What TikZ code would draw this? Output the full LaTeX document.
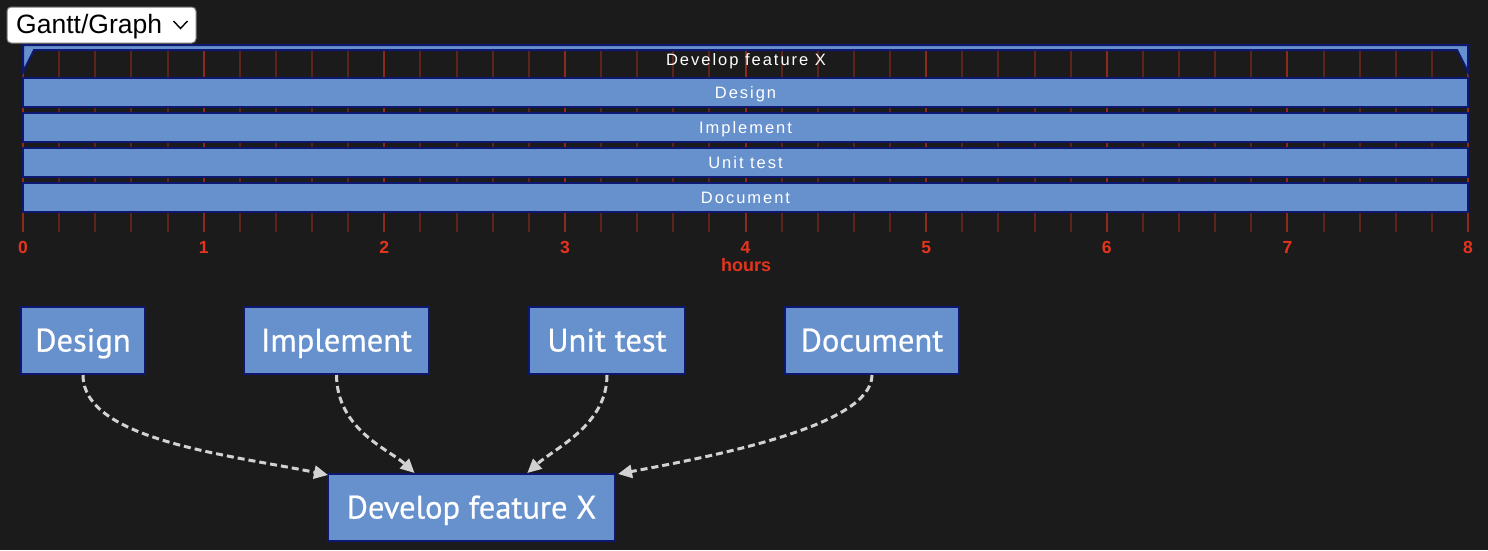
\documentclass[tikz,border=0pt]{standalone}
\usepackage{fontspec}
\setmainfont{Liberation Sans}
\newfontfamily\ganttfont[LetterSpace=12]{Liberation Sans}
\newfontfamily\axisfont{Liberation Sans}
\newfontfamily\nodefont[FakeBold=0.6]{PT Sans}
\usetikzlibrary{calc,arrows.meta}
\definecolor{bg}{RGB}{27,27,27}
\definecolor{barfill}{RGB}{103,145,204}
\definecolor{navy}{RGB}{14,24,112}
\definecolor{tickmaj}{RGB}{140,42,28}
\definecolor{tickmin}{RGB}{92,36,26}
\definecolor{axisred}{RGB}{228,52,30}
\definecolor{edgegray}{RGB}{210,210,210}
\tikzset{
  ganttbar/.style={rectangle, draw=navy, fill=barfill, line width=2.5pt, inner sep=0pt,
    minimum width=1445pt, minimum height=29pt, text=white, text height=12pt, text depth=0pt,
    font=\ganttfont\fontsize{16.5}{18}\selectfont},
  gtext/.style={inner sep=0pt, text=white, text height=12pt, text depth=0pt,
    font=\ganttfont\fontsize{16.5}{18}\selectfont},
  majtick/.style={draw=tickmaj, line width=2pt},
  mintick/.style={draw=tickmin, line width=2pt},
  axislab/.style={inner sep=0pt, text=axisred, font=\axisfont\bfseries\fontsize{17.5}{19}\selectfont},
  gnode/.style={rectangle, draw=navy, fill=barfill, line width=2pt, inner sep=0pt,
    minimum height=67pt, text=white, text height=22pt, text depth=0pt,
    font=\nodefont\fontsize{32.5}{36}\selectfont},
  depedge/.style={draw=edgegray, line width=3pt, dash pattern=on 7pt off 4pt,
    -{Triangle[length=14pt,width=13pt,fill=edgegray]}},
}
\begin{document}
\begin{tikzpicture}[x=1pt,y=-1pt]
\fill[bg] (0,0) rectangle (1488,550);
\useasboundingbox (0,0) rectangle (1488,550);

% dropdown
\node[draw={rgb,255:red,118;green,118;blue,118}, fill=white, rounded corners=4pt, line width=1pt,
  minimum width=189pt, minimum height=36pt, inner sep=0pt] (dd) at (101.5,25) {};
\node[anchor=west, inner sep=0pt, text=black, text height=17pt, text depth=0pt,
  font=\axisfont\fontsize{26.5}{28}\selectfont] (ddtext) at ($(dd.west)+(9.5,0)$) {Gantt/Graph};
\draw[black, line width=1.4pt] ($(dd.east)+(-23,-4)$) -- ($(dd.east)+(-16,3.5)$) -- ($(dd.east)+(-9,-4)$);

% ticks
\foreach \i in {0,...,40}{
  \pgfmathsetmacro\xx{23+\i*36.125}
  \pgfmathtruncatemacro\m{mod(\i,5)}
  \ifnum\m=0
    \draw[majtick] (\xx,50) -- (\xx,232);
  \else
    \draw[mintick] (\xx,50) -- (\xx,232);
  \fi
}

% summary bar
\draw[draw=navy, fill=barfill, line width=2pt, line join=miter]
  (23,45) -- (1468,45) -- (1468,72) -- (1457,50) -- (34,50) -- (23,72) -- cycle;
\node[gtext] (sumlabel) at (746,59) {Develop feature X};

% task bars
\node[ganttbar] (gdesign) at (745.5,92.5) {Design};
\node[ganttbar] (gimpl) at (745.5,127.5) {Implement};
\node[ganttbar] (gtest) at (745.5,162.5) {Unit test};
\node[ganttbar] (gdoc) at (745.5,197.5) {Document};

% axis labels
\foreach \i in {0,...,8}{
  \pgfmathsetmacro\xx{23+\i*180.625}
  \node[axislab] (ax\i) at (\xx,247.5) {\i};
}
\node[axislab, font=\axisfont\bfseries\fontsize{18}{20}\selectfont] (hours) at (746,265.5) {hours};

% graph nodes
\node[gnode, minimum width=124pt] (design) at (83,340.5) {Design};
\node[gnode, minimum width=185pt] (impl) at (336.5,340.5) {Implement};
\node[gnode, minimum width=156pt] (test) at (607,340.5) {Unit test};
\node[gnode, minimum width=174pt] (doc) at (872,340.5) {Document};
\node[gnode, minimum width=287pt] (dev) at (471.5,507.5) {Develop feature X};

\coordinate (tD) at ($(dev.north west)+(1,2)$);
\coordinate (tI) at ($(dev.north west)!0.303!(dev.north east)$);
\coordinate (tT) at ($(dev.north west)!0.693!(dev.north east)$);
\coordinate (tO) at ($(dev.north east)+(2,1)$);

\draw[depedge] (design.south) .. controls (83,440) and (230,455) .. (tD);
\draw[depedge] (impl.south) .. controls (337,430) and (390,450) .. (tI);
\draw[depedge] (test.south) .. controls (607,425) and (555,448) .. (tT);
\draw[depedge] (doc.south) .. controls (872,425) and (720,455) .. (tO);
\end{tikzpicture}
\end{document}
